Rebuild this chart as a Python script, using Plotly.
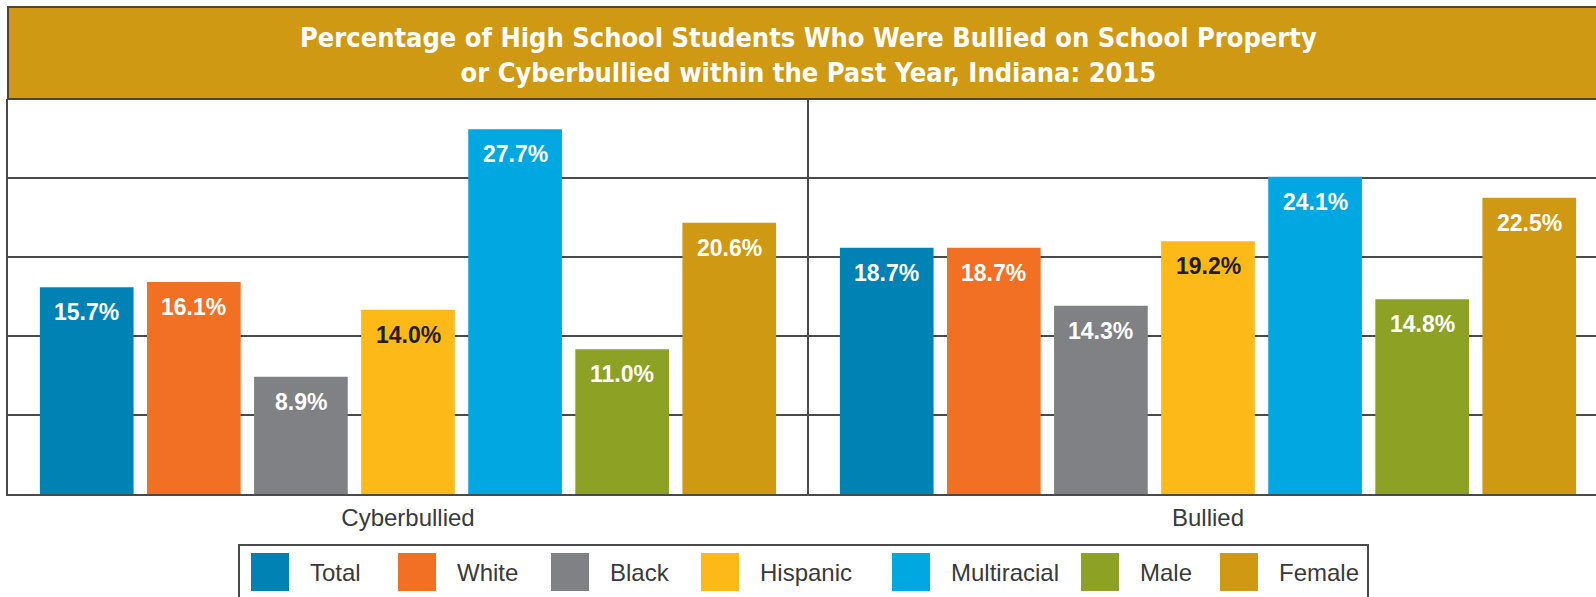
import plotly.graph_objects as go

# Survey measures (x axis categories)
categories = ["Cyberbullied", "Bullied"]

# Student groups and their percentages
groups = ["Total", "White", "Black", "Hispanic", "Multiracial", "Male", "Female"]
total = [15.7, 18.7]
white = [16.1, 18.7]
black = [8.9, 14.3]
hispanic = [14.0, 19.2]
multiracial = [27.7, 24.1]
male = [11.0, 14.8]
female = [20.6, 22.5]
series_values = [total, white, black, hispanic, multiracial, male, female]

colors = ["#0083B4", "#F27024", "#808184", "#FCB918", "#00A7E1", "#8DA225", "#D09914"]
label_colors = ["white", "white", "white", "#231F20", "white", "white", "white"]

title_text = ("Percentage of High School Students Who Were Bullied on School Property"
              "<br>or Cyberbullied within the Past Year, Indiana: 2015")

W, H = 1596, 597
ML, MR, MT, MB = 8, 0, 99, 103
PLOT_W = W - ML - MR
PLOT_H = H - MT - MB
CAT_PX = 800.0                     # pixel width of one category band
BARGAP = 0.063
BARGROUPGAP = 0.125
Y_MAX = 30
LINE = "#4A4A4A"


def px_x(p):
    """pixel x -> paper x"""
    return (p - ML) / PLOT_W


def px_y(p):
    """pixel y (from top) -> paper y"""
    return (H - MB - p) / PLOT_H


fig = go.Figure()
for name, vals, col in zip(groups, series_values, colors):
    fig.add_trace(go.Bar(
        x=categories, y=vals, name=name,
        marker=dict(color=col, line=dict(width=0)),
        showlegend=False, hoverinfo="x+y+name",
    ))

# value labels placed near the top inside each bar
n = len(groups)
slot = (1 - BARGAP) / n
annotations = []
for i, (vals, lc) in enumerate(zip(series_values, label_colors)):
    for ci, v in enumerate(vals):
        annotations.append(dict(
            x=ci + (i - (n - 1) / 2) * slot, y=v, xref="x", yref="y",
            text=f"{v:.1f}%", showarrow=False, yanchor="middle", yshift=-25,
            font=dict(family="Liberation Sans, Arial, sans-serif", size=23,
                      color=lc, weight=700),
        ))

# title text on the banner
annotations.append(dict(
    x=0.5, xref="x", y=px_y(55), yref="paper", text=title_text,
    showarrow=False, xanchor="center", yanchor="middle", align="center",
    font=dict(family="DejaVu Sans Condensed, sans-serif",
              size=27, color="white", weight=700),
))

shapes = []
# title banner
shapes.append(dict(type="rect", xref="paper", yref="paper",
                   x0=px_x(ML), x1=px_x(W + 20), y0=px_y(99), y1=px_y(7),
                   fillcolor="#D09914", line=dict(color="#4E4535", width=2),
                   layer="above"))
# divider between the two measures
shapes.append(dict(type="line", xref="x", yref="y", x0=0.5, x1=0.5, y0=0, y1=Y_MAX,
                   line=dict(color=LINE, width=2), layer="below"))

# legend box with colour keys
legend_left = [251, 398, 551, 701, 892, 1081, 1220]
SQ = 38
shapes.append(dict(type="rect", xref="paper", yref="paper",
                   x0=px_x(239), x1=px_x(1368), y0=px_y(H + 20), y1=px_y(545),
                   fillcolor="white", line=dict(color=LINE, width=2)))
for name, col, lx in zip(groups, colors, legend_left):
    shapes.append(dict(type="rect", xref="paper", yref="paper",
                       x0=px_x(lx), x1=px_x(lx + SQ), y0=px_y(591), y1=px_y(553),
                       fillcolor=col, line=dict(width=0)))
    annotations.append(dict(
        x=px_x(lx + SQ + 19), y=px_y(572), xref="paper", yref="paper",
        text=name, showarrow=False, xanchor="left", yanchor="middle",
        font=dict(family="Liberation Sans, Arial, sans-serif", size=24, color="#3A3A3A"),
    ))

fig.update_layout(
    width=W, height=H,
    margin=dict(l=ML, r=MR, t=MT, b=MB, pad=0),
    paper_bgcolor="white", plot_bgcolor="white",
    barmode="group", bargap=BARGAP, bargroupgap=BARGROUPGAP,
    showlegend=False,
    annotations=annotations, shapes=shapes,
    xaxis=dict(
        type="category", range=[-0.5, -0.5 + PLOT_W / CAT_PX],
        showgrid=False, zeroline=False, ticks="",
        showline=True, linecolor=LINE, linewidth=2,
        tickfont=dict(family="Liberation Sans, Arial, sans-serif", size=24, color="#3A3A3A"),
        ticklabelstandoff=1, fixedrange=True,
    ),
    yaxis=dict(
        range=[0, Y_MAX], dtick=6, showticklabels=False,
        showgrid=True, gridcolor=LINE, gridwidth=2, zeroline=False,
        showline=True, linecolor=LINE, linewidth=2, fixedrange=True,
    ),
)

fig.write_html("out.html")
